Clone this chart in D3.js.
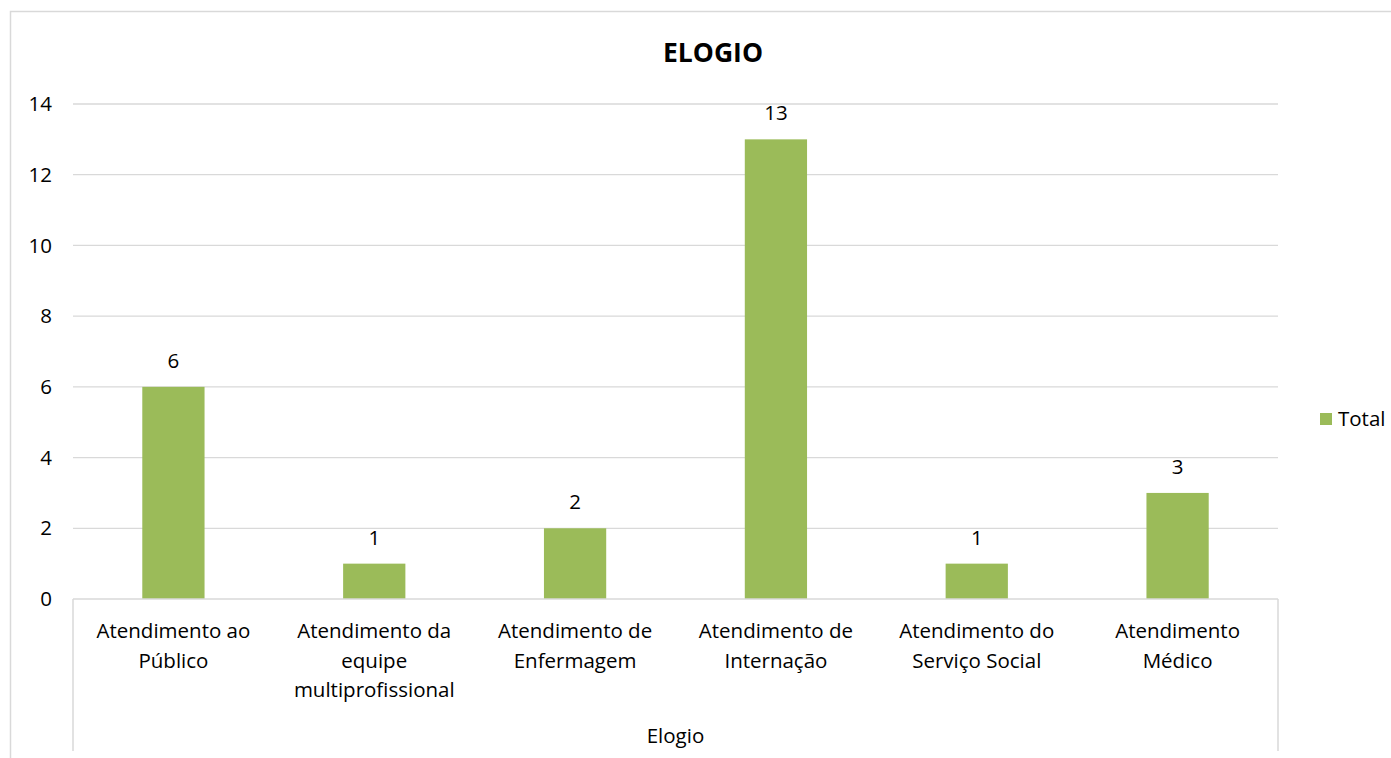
<!DOCTYPE html>
<html>
<head>
<meta charset="utf-8">
<script src="https://cdn.jsdelivr.net/npm/d3@7"></script>
<style>
  body { margin: 0; background: #fff; overflow: hidden; }
  text { font-family: "Open Sans", "Noto Sans", sans-serif; fill: #000; }
</style>
</head>
<body>
<script>
// chart data
const categories = [
    ["Atendimento ao", "Público"],
    ["Atendimento da", "equipe", "multiprofissional"],
    ["Atendimento de", "Enfermagem"],
    ["Atendimento de", "Internação"],
    ["Atendimento do", "Serviço Social"],
    ["Atendimento", "Médico"]
];
const totals = [6, 1, 2, 13, 1, 3];
const yTicks = [0, 2, 4, 6, 8, 10, 12, 14];
const title = "ELOGIO";
const groupLabel = "Elogio";
const seriesName = "Total";

const W = 1391, H = 758;
const plotLeft = 73, plotRight = 1278, plotTop = 104, plotBottom = 599;
const barColor = "#9bbb59", gridColor = "#d9d9d9";
const fs = "20.5px";

let svg = d3.select("body").append("svg")
            .attr("width", W)
            .attr("height", H);

// outer frame
svg.append("rect")
   .attr("x", 10.5).attr("y", 11.5)
   .attr("width", 1400).attr("height", 800)
   .attr("fill", "none")
   .attr("stroke", gridColor)
   .attr("stroke-width", 1.5);

let idx = d3.range(categories.length);
let x = d3.scaleBand().domain(idx).range([plotLeft, plotRight]).padding(0);
let y = d3.scaleLinear().domain([0, 14]).range([plotBottom, plotTop]);

// gridlines
svg.selectAll("line.grid")
   .data(yTicks.filter(d => d > 0))
   .enter()
   .append("line")
   .attr("class", "grid")
   .attr("x1", plotLeft).attr("x2", plotRight)
   .attr("y1", d => y(d)).attr("y2", d => y(d))
   .attr("stroke", gridColor)
   .attr("stroke-width", 1.3);

// y tick labels
svg.selectAll("text.ytick")
   .data(yTicks)
   .enter()
   .append("text")
   .attr("class", "ytick")
   .attr("x", 52)
   .attr("y", d => y(d))
   .attr("dy", "0.35em")
   .attr("text-anchor", "end")
   .style("font-size", fs)
   .text(d => d);

// bars
let barW = x.bandwidth() * 0.31;
svg.selectAll("rect.bar")
   .data(totals)
   .enter()
   .append("rect")
   .attr("class", "bar")
   .attr("x", (d, i) => x(i) + x.bandwidth() / 2 - barW / 2)
   .attr("y", d => y(d))
   .attr("width", barW)
   .attr("height", d => y(0) - y(d))
   .attr("fill", barColor);

// data labels
svg.selectAll("text.val")
   .data(totals)
   .enter()
   .append("text")
   .attr("class", "val")
   .attr("x", (d, i) => x(i) + x.bandwidth() / 2)
   .attr("y", d => y(d) - 19)
   .attr("text-anchor", "middle")
   .style("font-size", fs)
   .text(d => d);

// category axis
let axisG = svg.append("g");
axisG.append("line")
   .attr("x1", plotLeft).attr("x2", plotRight)
   .attr("y1", plotBottom).attr("y2", plotBottom)
   .attr("stroke", gridColor).attr("stroke-width", 1.5);
[plotLeft, plotRight].forEach(px => {
    axisG.append("line")
       .attr("x1", px).attr("x2", px)
       .attr("y1", plotBottom).attr("y2", 751)
       .attr("stroke", gridColor).attr("stroke-width", 1.5);
});

let catLabels = svg.selectAll("text.cat")
   .data(categories)
   .enter()
   .append("text")
   .attr("class", "cat")
   .attr("text-anchor", "middle")
   .style("font-size", fs);
catLabels.each(function(lines, i) {
    let t = d3.select(this);
    lines.forEach((s, k) => {
        t.append("tspan")
         .attr("x", x(i) + x.bandwidth() / 2)
         .attr("y", 638 + k * 29.5)
         .text(s);
    });
});

svg.append("text")
   .attr("x", (plotLeft + plotRight) / 2)
   .attr("y", 743)
   .attr("text-anchor", "middle")
   .style("font-size", fs)
   .text(groupLabel);

// title
svg.append("text")
   .attr("x", 713)
   .attr("y", 62)
   .attr("text-anchor", "middle")
   .style("font-size", "26.5px")
   .style("font-weight", "bold")
   .text(title);

// legend
svg.append("rect")
   .attr("x", 1320).attr("y", 413)
   .attr("width", 12).attr("height", 12)
   .attr("fill", barColor);
svg.append("text")
   .attr("x", 1338).attr("y", 419)
   .attr("dy", "0.35em")
   .style("font-size", fs)
   .text(seriesName);
</script>
</body>
</html>
